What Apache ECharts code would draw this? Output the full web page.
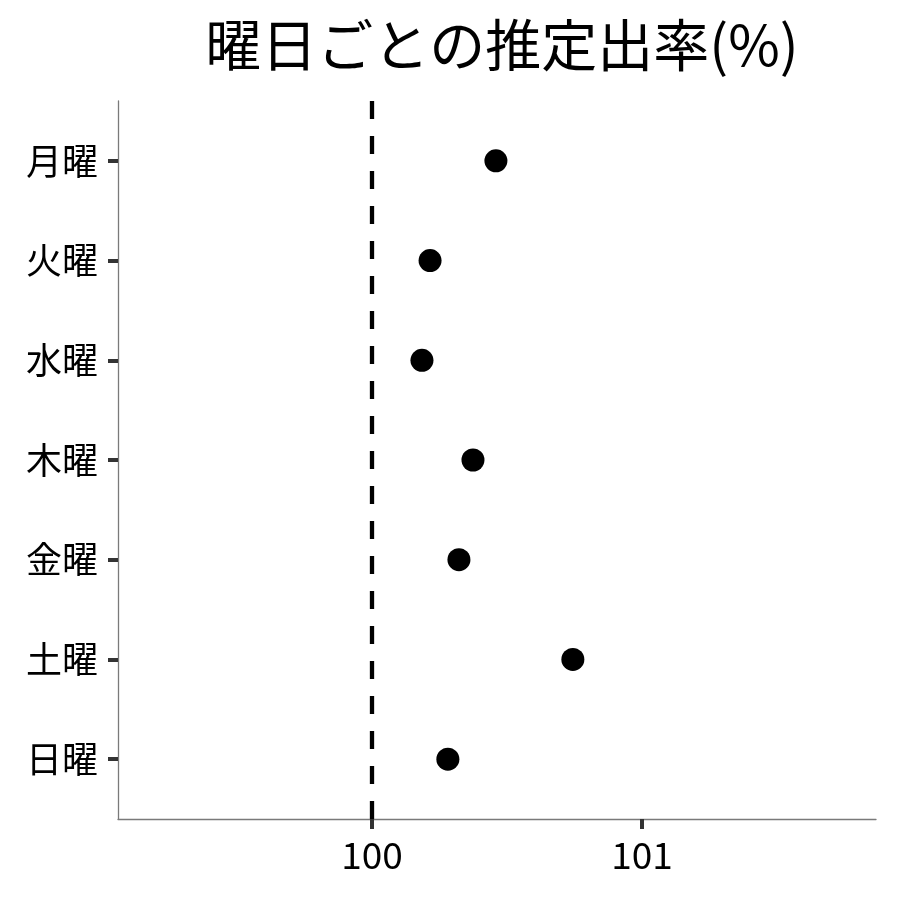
<!DOCTYPE html>
<html><head><meta charset="utf-8">
<script src="https://cdn.jsdelivr.net/npm/echarts@6/dist/echarts.min.js"></script>
<style>html,body{margin:0;padding:0;background:#fff}#c{width:900px;height:900px}</style>
</head><body><div id="c"></div>
<script>
const categories = ['月曜','火曜','水曜','木曜','金曜','土曜','日曜'];
const values = [100.459, 100.215, 100.185, 100.374, 100.322, 100.744, 100.281];
const xTicks = [100, 101];
const refValue = 100;
const xRange = [99.059, 101.867];

const catPos = categories.map((c, i) => i + 1);
const data = values.map((v, i) => [v, catPos[i]]);
const font = '"Noto Sans CJK JP", "Noto Sans", sans-serif';

const chart = echarts.init(document.getElementById('c'), null, {renderer: 'canvas'});
chart.setOption({
  backgroundColor: '#fff',
  animation: false,
  title: {
    text: '曜日ごとの推定出率(%)',
    left: 497, top: 12, textAlign: 'center',
    textStyle: {fontFamily: font, fontSize: 56, fontWeight: 'normal', color: '#000'}
  },
  grid: {left: 118, right: 24, top: 101, bottom: 81},
  xAxis: {
    type: 'value', min: xRange[0], max: xRange[1],
    splitLine: {show: false},
    axisLine: {show: true, lineStyle: {color: '#7a7a7a', width: 1.3}},
    axisTick: {show: true, customValues: xTicks, length: 10, lineStyle: {color: '#333', width: 4}},
    axisLabel: {customValues: xTicks, fontFamily: font, fontSize: 37, color: '#000', margin: 17,
      formatter: v => String(Math.round(v))}
  },
  yAxis: {
    type: 'value', min: 0.4, max: 7.6, inverse: true,
    splitLine: {show: false},
    axisLine: {show: true, lineStyle: {color: '#7a7a7a', width: 1.3}},
    axisTick: {show: true, customValues: catPos, length: 10, lineStyle: {color: '#333', width: 4}},
    axisLabel: {customValues: catPos, fontFamily: font, fontSize: 36, color: '#000', margin: 20,
      formatter: v => categories[Math.round(v) - 1] || ''}
  },
  series: [{
    type: 'scatter', data: data, symbol: 'circle', symbolSize: 23,
    itemStyle: {color: '#000', opacity: 1},
    markLine: {
      silent: true, symbol: 'none', label: {show: false},
      lineStyle: {color: '#000', type: [18, 17], width: 4.3},
      data: [{xAxis: refValue}]
    }
  }]
});
</script></body></html>
